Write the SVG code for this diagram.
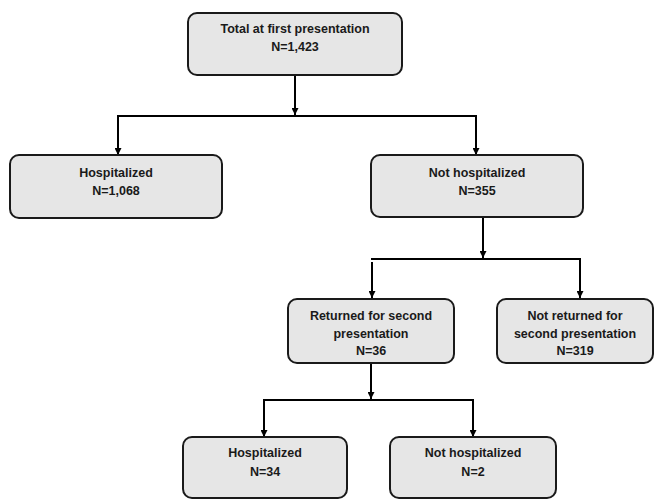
<svg xmlns="http://www.w3.org/2000/svg" width="655" height="500" viewBox="0 0 655 500">
<style>
.box{fill:#e6e6e6;stroke:#1a1a1a;stroke-width:2}
.t{font-family:"Liberation Sans",Arial,sans-serif;font-weight:bold;font-size:12.5px;fill:#1a1a1a;text-anchor:middle}
.c{fill:none;stroke:#000;stroke-width:2}
</style>
<defs>
<marker id="ah" viewBox="0 0 10 10" refX="10" refY="5" markerWidth="3.5" markerHeight="3.5" orient="auto" markerUnits="strokeWidth">
<path d="M0,0 L10,5 L0,10 z" fill="#000"/>
</marker>
</defs>
<rect width="655" height="500" fill="#fff"/>
<g id="connectors">
<path class="c" d="M295,75 V115" marker-end="url(#ah)"/>
<path class="c" d="M118,155 V116 H476 V155" />
<path class="c" d="M118,120 V155" marker-end="url(#ah)"/>
<path class="c" d="M476,120 V155" marker-end="url(#ah)"/>
<path class="c" d="M483,217 V258" marker-end="url(#ah)"/>
<path class="c" d="M372,260 V259 H580 V262"/>
<path class="c" d="M372,262 V298" marker-end="url(#ah)"/>
<path class="c" d="M580,262 V298" marker-end="url(#ah)"/>
<path class="c" d="M371,363 V399" marker-end="url(#ah)"/>
<path class="c" d="M264,402 V400 H473 V402"/>
<path class="c" d="M264,402 V437" marker-end="url(#ah)"/>
<path class="c" d="M473,402 V437" marker-end="url(#ah)"/>
</g>
<g id="n-total">
<rect class="box" x="188" y="13" width="214" height="62" rx="9"/>
<text class="t" x="295" y="33">Total at first presentation</text>
<text class="t" x="295" y="51">N=1,423</text>
</g>
<g id="n-hosp">
<rect class="box" x="10" y="155" width="212" height="63" rx="9"/>
<text class="t" x="116" y="177">Hospitalized</text>
<text class="t" x="116" y="195">N=1,068</text>
</g>
<g id="n-nothosp">
<rect class="box" x="371" y="155" width="212" height="62" rx="9"/>
<text class="t" x="477" y="177">Not hospitalized</text>
<text class="t" x="477" y="195">N=355</text>
</g>
<g id="n-returned">
<rect class="box" x="288" y="299" width="166" height="64" rx="9"/>
<text class="t" x="371" y="320">Returned for second</text>
<text class="t" x="371" y="338">presentation</text>
<text class="t" x="371" y="355">N=36</text>
</g>
<g id="n-notreturned">
<rect class="box" x="497" y="299" width="156" height="64" rx="9"/>
<text class="t" x="575" y="320">Not returned for</text>
<text class="t" x="575" y="338">second presentation</text>
<text class="t" x="575" y="355">N=319</text>
</g>
<g id="n-hosp2">
<rect class="box" x="183" y="437" width="164" height="61" rx="9"/>
<text class="t" x="265" y="457">Hospitalized</text>
<text class="t" x="265" y="476">N=34</text>
</g>
<g id="n-nothosp2">
<rect class="box" x="390" y="437" width="166" height="61" rx="9"/>
<text class="t" x="473" y="457">Not hospitalized</text>
<text class="t" x="473" y="476">N=2</text>
</g>
</svg>
